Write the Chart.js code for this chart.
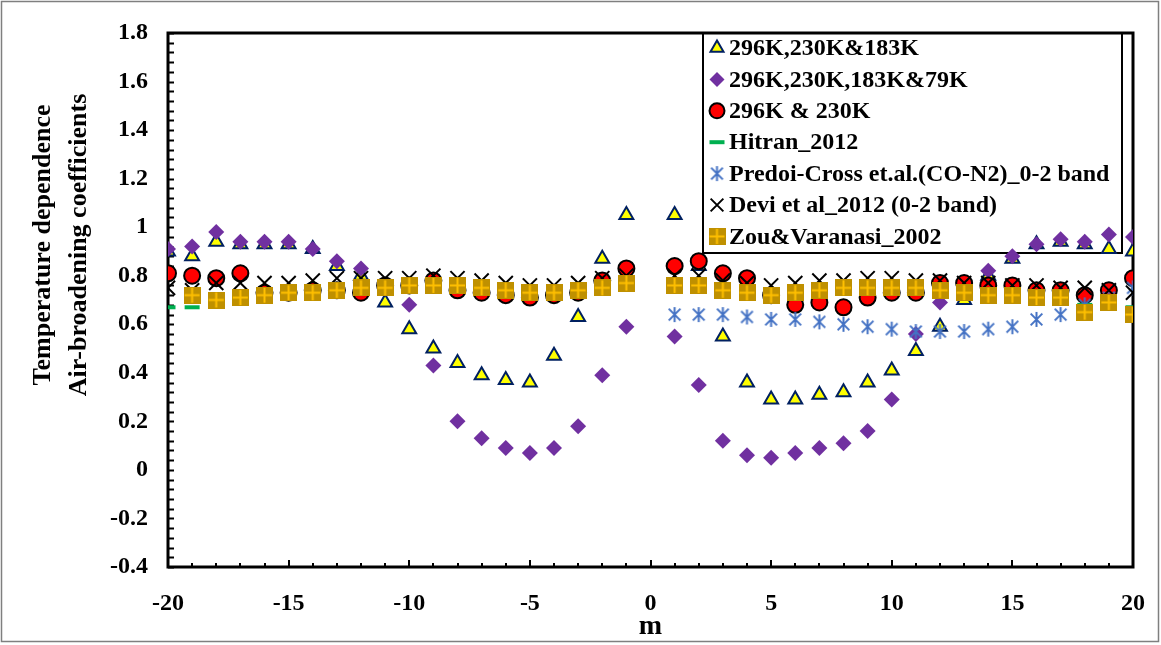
<!DOCTYPE html>
<html>
<head>
<meta charset="utf-8">
<title>Air-broadening temperature dependence</title>
<script src="https://cdn.jsdelivr.net/npm/chart.js@4.4.0/dist/chart.umd.min.js"></script>
<style>
  html, body { margin: 0; padding: 0; background: #fff; }
  canvas { display: block; }
</style>
</head>
<body>
<canvas id="chart" width="1161" height="645"></canvas>
<script>
// rotational index m (no m = 0)
const mValues = [-20, -19, -18, -17, -16, -15, -14, -13, -12, -11, -10, -9, -8, -7, -6, -5, -4, -3, -2, -1,
                 1, 2, 3, 4, 5, 6, 7, 8, 9, 10, 11, 12, 13, 14, 15, 16, 17, 18, 19, 20];

const fit296_230_183 = [0.90, 0.88, 0.94, 0.93, 0.93, 0.93, 0.91, 0.84, 0.80, 0.69, 0.58, 0.50, 0.44, 0.39, 0.37, 0.36, 0.47, 0.63, 0.87, 1.05,
                        1.05, 0.84, 0.55, 0.36, 0.29, 0.29, 0.31, 0.32, 0.36, 0.41, 0.49, 0.59, 0.70, 0.80, 0.87, 0.93, 0.94, 0.93, 0.91, 0.90];
const fit296_230_183_79 = [0.91, 0.92, 0.98, 0.94, 0.94, 0.94, 0.91, 0.86, 0.83, 0.76, 0.68, 0.43, 0.20, 0.13, 0.09, 0.07, 0.09, 0.18, 0.39, 0.59,
                           0.55, 0.35, 0.12, 0.06, 0.05, 0.07, 0.09, 0.11, 0.16, 0.29, 0.56, 0.69, 0.76, 0.82, 0.88, 0.93, 0.95, 0.94, 0.97, 0.96];
const fit296_230 = [0.81, 0.80, 0.79, 0.81, 0.73, 0.73, 0.74, 0.74, 0.73, 0.76, 0.76, 0.78, 0.74, 0.73, 0.72, 0.71, 0.72, 0.73, 0.78, 0.83,
                    0.84, 0.86, 0.81, 0.79, 0.72, 0.68, 0.69, 0.67, 0.71, 0.73, 0.73, 0.77, 0.77, 0.76, 0.76, 0.74, 0.74, 0.72, 0.74, 0.79];
const hitran2012 = [0.67, 0.67, 0.68, 0.70, 0.71, 0.72, 0.73, 0.74, 0.74, 0.75, 0.75, 0.76, 0.75, 0.75, 0.74, 0.73, 0.73, 0.74, 0.75, 0.77,
                    0.77, 0.75, 0.74, 0.73, 0.72, 0.73, 0.74, 0.75, 0.75, 0.75, 0.75, 0.74, 0.74, 0.73, 0.72, 0.71, 0.70, 0.68, 0.67, 0.67];
const predoiCross = [null, null, null, null, null, null, null, null, null, null, null, null, null, null, null, null, null, null, null, null,
                     0.64, 0.64, 0.64, 0.63, 0.62, 0.62, 0.61, 0.60, 0.59, 0.58, 0.57, 0.57, 0.57, 0.58, 0.59, 0.62, 0.64, 0.68, 0.71, 0.75];
const devi2012 = [0.75, 0.74, 0.77, 0.77, 0.77, 0.77, 0.78, 0.79, 0.79, 0.79, 0.79, 0.80, 0.79, 0.78, 0.77, 0.76, 0.76, 0.77, 0.79, 0.80,
                  0.80, 0.80, 0.78, 0.77, 0.76, 0.77, 0.78, 0.78, 0.79, 0.79, 0.78, 0.78, 0.77, 0.77, 0.76, 0.76, 0.75, 0.75, 0.74, 0.73];
const zouVaranasi = [null, 0.72, 0.70, 0.71, 0.72, 0.73, 0.73, 0.74, 0.75, 0.75, 0.76, 0.76, 0.76, 0.75, 0.74, 0.73, 0.73, 0.74, 0.75, 0.77,
                     0.76, 0.76, 0.74, 0.73, 0.72, 0.73, 0.74, 0.75, 0.75, 0.75, 0.75, 0.74, 0.73, 0.72, 0.72, 0.71, 0.71, 0.65, 0.69, 0.64];

const seriesNames = [
  "296K,230K&183K",
  "296K,230K,183K&79K",
  "296K & 230K",
  "Hitran_2012",
  "Predoi-Cross et.al.(CO-N2)_0-2 band",
  "Devi et al_2012 (0-2 band)",
  "Zou&Varanasi_2002"
];

const xTicks = [-20, -15, -10, -5, 0, 5, 10, 15, 20];
const yTicks = [-0.4, -0.2, 0, 0.2, 0.4, 0.6, 0.8, 1, 1.2, 1.4, 1.6, 1.8];

const serif = "'Liberation Serif', 'Times New Roman', serif";

// blue asterisk marker (x plus a vertical bar)
function makeAsterisk(size, color) {
  const c = document.createElement("canvas");
  c.width = c.height = size;
  const g = c.getContext("2d");
  const h = size / 2, r = h - 1, d = r * 0.78;
  g.strokeStyle = color;
  g.lineWidth = 2;
  g.beginPath();
  g.moveTo(h, h - r); g.lineTo(h, h + r);
  g.moveTo(h - d, h - d); g.lineTo(h + d, h + d);
  g.moveTo(h - d, h + d); g.lineTo(h + d, h - d);
  g.stroke();
  return c;
}

// gold square with a lighter plus
function makePlusSquare(size) {
  const c = document.createElement("canvas");
  c.width = c.height = size;
  const g = c.getContext("2d");
  g.fillStyle = "#BF9000";
  g.fillRect(0, 0, size, size);
  g.strokeStyle = "#FFC000";
  g.lineWidth = 2;
  g.beginPath();
  g.moveTo(size / 2, 1); g.lineTo(size / 2, size - 1);
  g.moveTo(1, size / 2); g.lineTo(size - 1, size / 2);
  g.stroke();
  return c;
}

const asterisk = makeAsterisk(17, "#4472C4");
const plusSquare = makePlusSquare(17);

function toPoints(vals) {
  return mValues.map((m, i) => ({ x: m, y: vals[i] }));
}

const styles = [
  { pointStyle: "triangle", radius: 8, bg: "#FFFF00", border: "#002060", bw: 2 },
  { pointStyle: "rectRot", radius: 8, bg: "#7030A0", border: "#7030A0", bw: 0 },
  { pointStyle: "circle", radius: 8, bg: "#FF0000", border: "#000000", bw: 2 },
  { pointStyle: "line", radius: 7.5, bg: "#00B050", border: "#00B050", bw: 4 },
  { pointStyle: asterisk, radius: 8, bg: "#4472C4", border: "#4472C4", bw: 2 },
  { pointStyle: "crossRot", radius: 10, bg: "#000000", border: "#000000", bw: 2 },
  { pointStyle: plusSquare, radius: 8, bg: "#BF9000", border: "#BF9000", bw: 0 }
];

const allValues = [fit296_230_183, fit296_230_183_79, fit296_230, hitran2012, predoiCross, devi2012, zouVaranasi];

const datasets = allValues.map((vals, i) => ({
  label: seriesNames[i],
  data: toPoints(vals),
  pointStyle: styles[i].pointStyle,
  pointRadius: styles[i].radius,
  pointBackgroundColor: styles[i].bg,
  pointBorderColor: styles[i].border,
  pointBorderWidth: styles[i].bw,
  showLine: false,
  order: allValues.length - i   // later series drawn on top
}));

// plot frame, inward tick marks and the outer border
const frame = {
  id: "frame",
  beforeDatasetsDraw(chart) {
    const { ctx, chartArea: a, scales } = chart;
    ctx.save();
    ctx.strokeStyle = "#000";
    ctx.lineWidth = 2;
    ctx.beginPath();
    for (let k = 0; k <= 55; k++) {
      const py = Math.round(scales.y.getPixelForValue(-0.4 + k * 0.04)) + 0.5;
      ctx.moveTo(a.left, py);
      ctx.lineTo(a.left + 6, py);
    }
    for (let m = -20; m <= 20; m++) {
      const px = Math.round(scales.x.getPixelForValue(m));
      ctx.moveTo(px, a.bottom);
      ctx.lineTo(px, a.bottom - (m % 5 === 0 ? 7 : 4));
    }
    ctx.stroke();
    ctx.lineWidth = 3;
    ctx.strokeRect(a.left, a.top, a.right - a.left, a.bottom - a.top);

    // legend box
    const lx = 703, ly = a.top, lw = a.right - 11 - lx, lh = 220;
    ctx.lineWidth = 2;
    ctx.strokeRect(lx, ly, lw, lh);

    ctx.strokeStyle = "#7f7f7f";
    ctx.lineWidth = 1.5;
    ctx.strokeRect(1.5, 1.5, chart.width - 4, chart.height - 5);
    ctx.restore();
  },
  afterDatasetsDraw(chart) {
    const { ctx, chartArea: a } = chart;
    ctx.save();
    // legend entries
    ctx.font = "bold 24px " + serif;
    ctx.textBaseline = "middle";
    ctx.textAlign = "left";
    datasets.forEach((ds, i) => {
      const y = a.top + 15 + i * 31.4;
      const s = styles[i];
      ctx.fillStyle = s.bg;
      ctx.strokeStyle = s.border;
      ctx.lineWidth = s.bw;
      Chart.helpers.drawPoint(ctx, { pointStyle: s.pointStyle, radius: s.pointStyle === "crossRot" ? 9 : 7.5, rotation: 0, borderWidth: s.bw }, 717, y);
      ctx.fillStyle = "#000";
      ctx.fillText(ds.label, 729, y + 1);
    });

    // axis titles
    ctx.textAlign = "center";
    ctx.font = "bold 26px " + serif;
    ctx.save();
    ctx.translate(43, 245);
    ctx.rotate(-Math.PI / 2);
    ctx.fillText("Temperature dependence", 0, 0);
    ctx.restore();
    ctx.save();
    ctx.translate(79, 245);
    ctx.rotate(-Math.PI / 2);
    ctx.fillText("Air-broadening coefficients", 0, 0);
    ctx.restore();
    ctx.font = "bold 28px " + serif;
    ctx.fillText("m", (a.left + a.right) / 2, 627);
    ctx.restore();
  }
};

const tickFont = { family: serif, size: 24, weight: "bold" };

new Chart(document.getElementById("chart").getContext("2d"), {
  type: "scatter",
  data: { datasets: datasets },
  options: {
    responsive: false,
    animation: false,
    layout: { padding: { top: 33, right: 28, left: 0, bottom: 0 } },
    plugins: {
      legend: { display: false },
      tooltip: { enabled: false }
    },
    scales: {
      x: {
        type: "linear",
        min: -20,
        max: 20,
        grid: { display: false, drawTicks: false },
        border: { display: false },
        afterBuildTicks: s => { s.ticks = xTicks.map(v => ({ value: v })); },
        afterFit: s => { s.height = 78; s.paddingLeft = 0; s.paddingRight = 0; },
        ticks: { font: tickFont, color: "#000", padding: 22, maxRotation: 0, autoSkip: false }
      },
      y: {
        type: "linear",
        min: -0.4,
        max: 1.8,
        grid: { display: false, drawTicks: false },
        border: { display: false },
        afterBuildTicks: s => { s.ticks = yTicks.map(v => ({ value: v })); },
        afterFit: s => { s.width = 168; s.paddingTop = 0; s.paddingBottom = 0; },
        ticks: { font: tickFont, color: "#000", padding: 20, callback: v => String(v) }
      }
    }
  },
  plugins: [frame]
});
</script>
</body>
</html>
